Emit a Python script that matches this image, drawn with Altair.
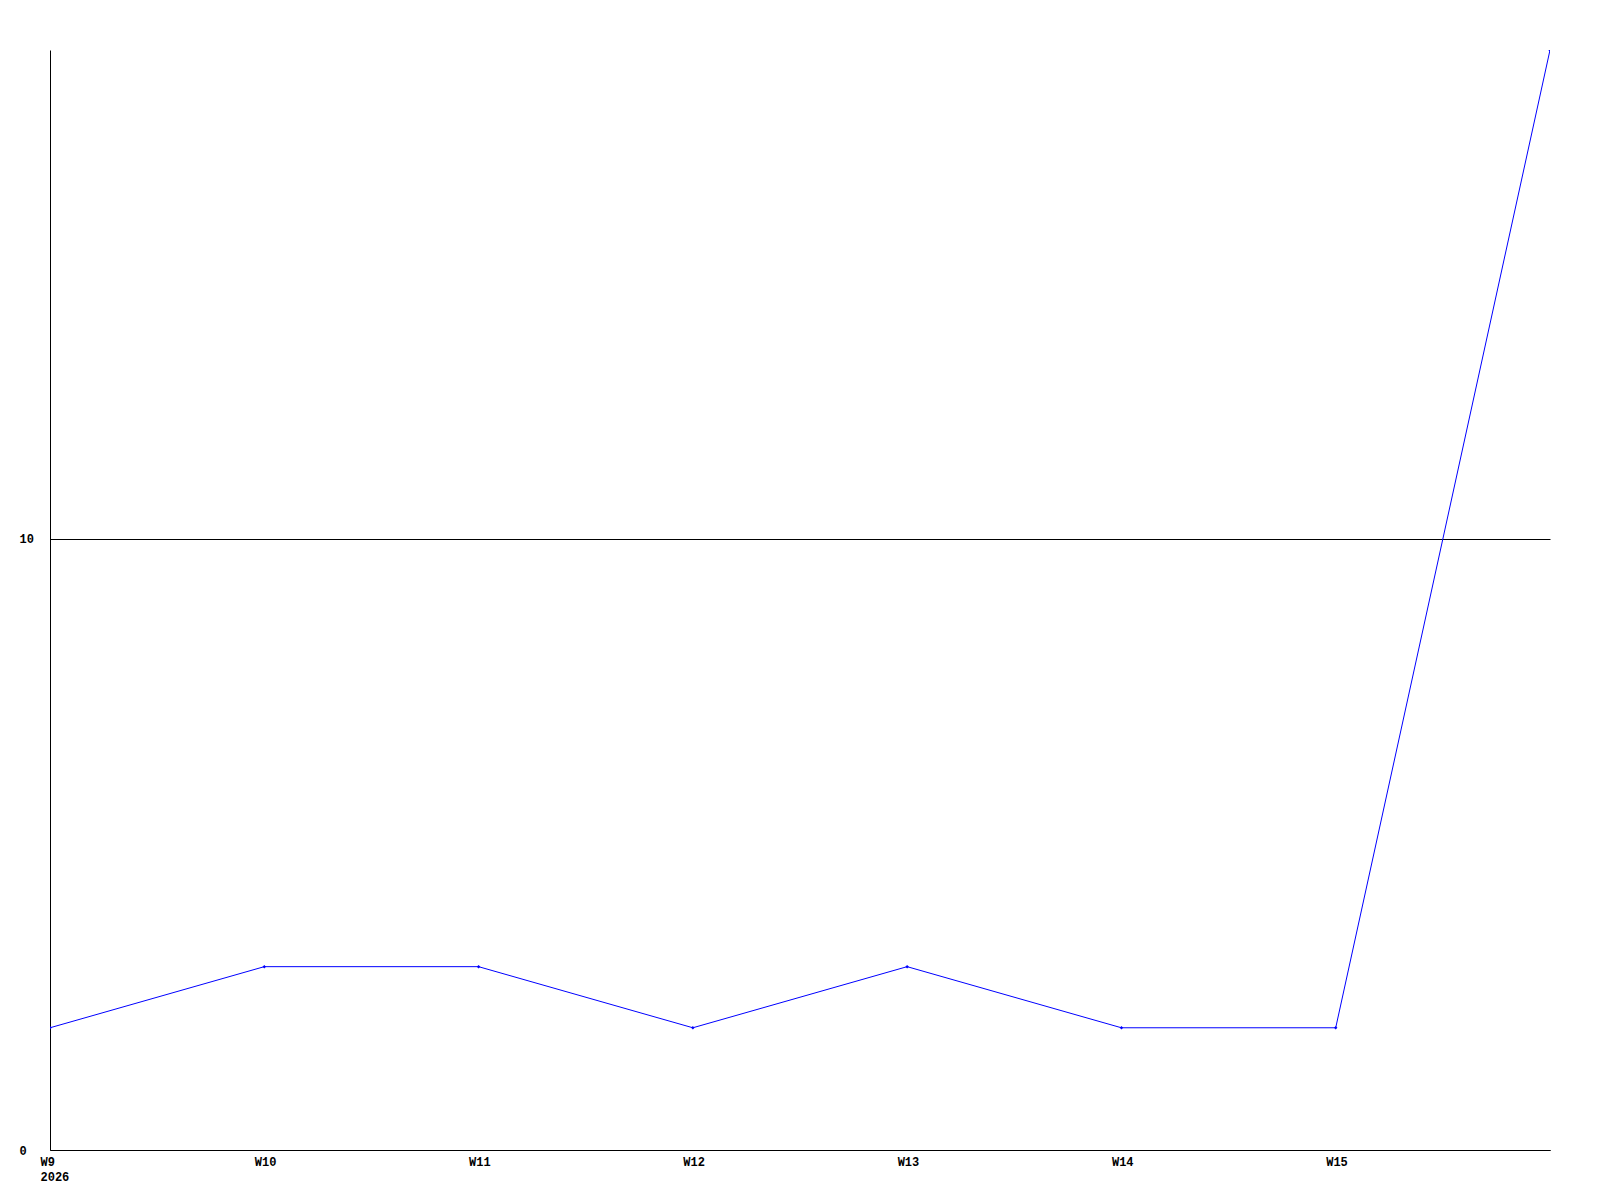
import altair as alt
import pandas as pd

weeks = [9, 10, 11, 12, 13, 14, 15, 16]
values = [2, 3, 3, 2, 3, 2, 2, 18]
tick_weeks = [9, 10, 11, 12, 13, 14, 15]
y_ticks = [0, 10]

df = pd.DataFrame({"week": weeks, "value": values})

font = "Liberation Mono"

x_enc = alt.X(
    "week:Q",
    scale=alt.Scale(domain=[9, 16], nice=False, zero=False),
    axis=alt.Axis(
        values=tick_weeks,
        labelExpr="datum.value == 9 ? ['W9', '2026'] : 'W' + datum.value",
        labelAlign="left",
        labelOffset=-10,
        labelBaseline="top",
        labelPadding=6,
        ticks=False,
        grid=False,
        domain=True,
        domainColor="black",
        labelFont=font,
        labelFontWeight="bold",
        labelFontSize=12,
        labelColor="black",
        labelLineHeight=15,
        title=None,
        labelFlush=False,
        labelOverlap=False,
    ),
)
y_enc = alt.Y(
    "value:Q",
    scale=alt.Scale(domain=[0, 18], nice=False),
    axis=alt.Axis(
        values=y_ticks,
        format="d",
        ticks=False,
        grid=True,
        gridColor="black",
        gridOpacity=1,
        gridWidth=1,
        domain=True,
        domainColor="black",
        labelFont=font,
        labelFontWeight="bold",
        labelFontSize=12,
        labelColor="black",
        labelAlign="left",
        labelPadding=31,
        title=None,
    ),
)

line = alt.Chart(df).mark_line(color="#0000ff", strokeWidth=1, clip=True).encode(x=x_enc, y=y_enc)
pts = alt.Chart(df).mark_point(
    shape="diamond", filled=True, color="#0000ff", size=12, opacity=1, clip=True
).encode(x="week:Q", y="value:Q")

chart = (
    alt.layer(line, pts)
    .properties(
        width=1500,
        height=1100,
        padding={"left": 42, "top": 42, "right": 10, "bottom": 40},
        autosize=alt.AutoSizeParams(type="none"),
        background="white",
    )
    .configure_view(strokeWidth=0, stroke="transparent")
)

chart.save("out.html", embed_options={"renderer": "svg", "actions": False})
